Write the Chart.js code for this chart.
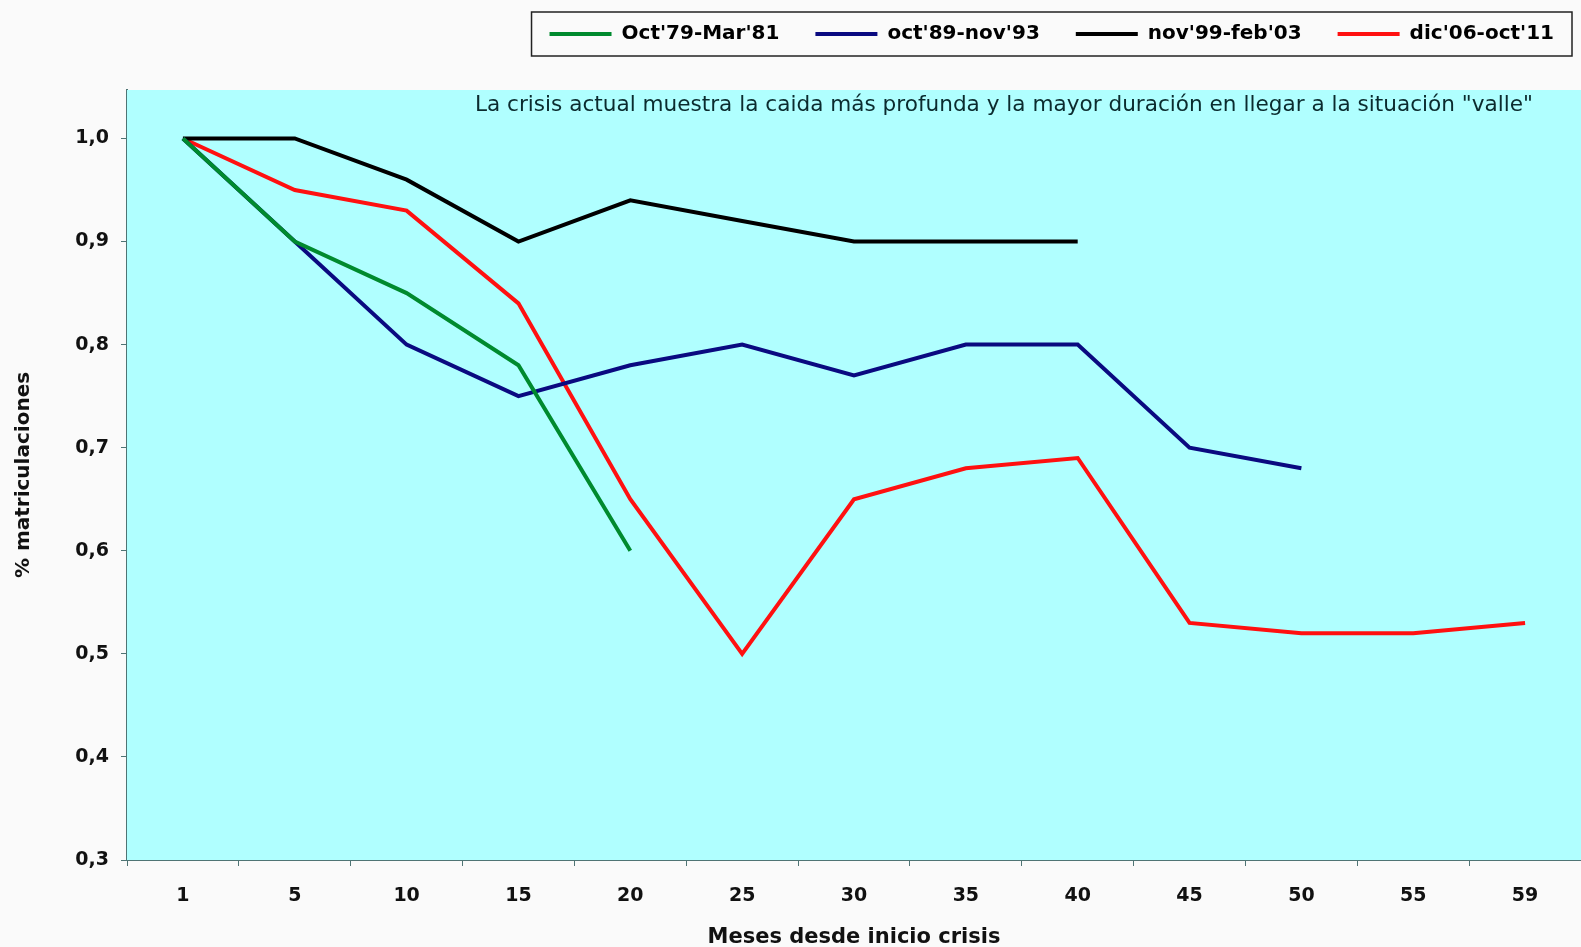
<!DOCTYPE html>
<html lang="es">
<head>
    <meta charset="UTF-8">
    <title>Matriculaciones en crisis</title>
    <style>
        body {
            margin: 0;
            padding: 0;
            background: #fafafa;
        }
        #chart {
            display: block;
        }
    </style>
    <script src="https://cdn.jsdelivr.net/npm/chart.js"></script>
</head>
<body>
    <canvas id="chart" width="1581" height="947"></canvas>

    <script>
        // meses desde inicio crisis
        const meses = ['1', '5', '10', '15', '20', '25', '30', '35', '40', '45', '50', '55', '59'];

        const crisis79 = [1.00, 0.90, 0.85, 0.78, 0.60, null, null, null, null, null, null, null, null];
        const crisis89 = [1.00, 0.90, 0.80, 0.75, 0.78, 0.80, 0.77, 0.80, 0.80, 0.70, 0.68, null, null];
        const crisis99 = [1.00, 1.00, 0.96, 0.90, 0.94, 0.92, 0.90, 0.90, 0.90, null, null, null, null];
        const crisis06 = [1.00, 0.95, 0.93, 0.84, 0.65, 0.50, 0.65, 0.68, 0.69, 0.53, 0.52, 0.52, 0.53];

        const nota = 'La crisis actual muestra la caida más profunda y la mayor duración en llegar a la situación "valle"';

        const axisColor = '#4f7474';
        const fontFamily = "'DejaVu Sans', Arial, sans-serif";
        const legendShift = 9;

        function serie(label, data, color) {
            return {
                label: label,
                data: data,
                borderColor: color,
                backgroundColor: color,
                borderWidth: 4,
                pointRadius: 0,
                pointHoverRadius: 0,
                tension: 0,
                fill: false
            };
        }

        // fondo cian del area de trazado + nota superior
        const plotBackground = {
            id: 'plotBackground',
            beforeDatasetsDraw(chart) {
                const {ctx, chartArea} = chart;
                ctx.save();
                ctx.fillStyle = '#b0ffff';
                ctx.fillRect(chartArea.left, chartArea.top, chartArea.right - chartArea.left, chartArea.bottom - chartArea.top);
                ctx.fillStyle = '#0b2b2e';
                ctx.font = "21.6px " + fontFamily;
                ctx.textAlign = 'right';
                ctx.textBaseline = 'middle';
                ctx.fillText(nota, chartArea.right - 48, chartArea.top + 15);
                ctx.restore();
            }
        };

        // marco alrededor de la leyenda y espacio debajo de ella
        const legendBox = {
            id: 'legendBox',
            beforeInit(chart) {
                const legend = chart.legend;
                const fit = legend.fit;
                legend.fit = function () {
                    fit.bind(legend)();
                    this.height += 36;
                };
                const draw = legend.draw;
                legend.draw = function () {
                    const ctx = chart.ctx;
                    ctx.save();
                    ctx.translate(legendShift, 0);
                    draw.bind(legend)();
                    ctx.restore();
                };
            },
            afterDraw(chart) {
                const boxes = chart.legend.legendHitBoxes;
                if (!boxes || !boxes.length) return;
                const left = Math.min(...boxes.map(b => b.left)) - 18 + legendShift;
                const right = Math.max(...boxes.map(b => b.left + b.width)) + 18 + legendShift;
                const top = Math.min(...boxes.map(b => b.top)) - 12;
                const bottom = Math.max(...boxes.map(b => b.top + b.height)) + 12;
                const ctx = chart.ctx;
                ctx.save();
                ctx.strokeStyle = '#222';
                ctx.lineWidth = 1.5;
                ctx.strokeRect(left, top, right - left, bottom - top);
                ctx.restore();
            }
        };

        new Chart(document.getElementById('chart'), {
            type: 'line',
            data: {
                labels: meses,
                datasets: [
                    serie("Oct'79-Mar'81", crisis79, '#008a2e'),
                    serie("oct'89-nov'93", crisis89, '#0a0a80'),
                    serie("nov'99-feb'03", crisis99, '#000000'),
                    serie("dic'06-oct'11", crisis06, '#ff1010')
                ]
            },
            options: {
                responsive: false,
                animation: false,
                layout: {
                    padding: {top: -12, right: 0, left: 0, bottom: 0}
                },
                plugins: {
                    tooltip: {enabled: false},
                    legend: {
                        position: 'top',
                        align: 'end',
                        labels: {
                            color: '#000',
                            boxWidth: 62,
                            boxHeight: 4,
                            padding: 36,
                            font: {family: fontFamily, size: 20, weight: 'bold'},
                            generateLabels(chart) {
                                return chart.data.datasets.map((ds, i) => ({
                                    text: ds.label,
                                    fillStyle: ds.borderColor,
                                    strokeStyle: ds.borderColor,
                                    lineWidth: 0,
                                    fontColor: '#000',
                                    datasetIndex: i,
                                    hidden: false
                                }));
                            }
                        }
                    }
                },
                scales: {
                    x: {
                        offset: true,
                        afterFit(scale) { scale.height = 87; },
                        border: {display: true, color: axisColor, width: 2},
                        grid: {
                            offset: true,
                            drawOnChartArea: false,
                            drawTicks: true,
                            tickLength: 6,
                            color: axisColor
                        },
                        ticks: {
                            color: '#111',
                            padding: 19,
                            maxRotation: 0,
                            autoSkip: false,
                            font: {family: fontFamily, size: 19, weight: 'bold'}
                        },
                        title: {
                            display: true,
                            text: 'Meses desde inicio crisis',
                            color: '#111',
                            padding: {top: 0, bottom: -3},
                            font: {family: fontFamily, size: 21, weight: 'bold'}
                        }
                    },
                    y: {
                        min: 0.3,
                        max: 1.047,
                        afterFit(scale) { scale.width = 127; },
                        afterBuildTicks(scale) {
                            scale.ticks = scale.ticks.filter(t => t.value <= 1.0001);
                        },
                        border: {display: true, color: axisColor, width: 2},
                        grid: {
                            drawOnChartArea: false,
                            drawTicks: true,
                            tickLength: 6,
                            color: axisColor
                        },
                        ticks: {
                            stepSize: 0.1,
                            color: '#111',
                            padding: 12,
                            font: {family: fontFamily, size: 19, weight: 'bold'},
                            callback: value => value.toFixed(1).replace('.', ',')
                        },
                        title: {
                            display: true,
                            text: '% matriculaciones',
                            color: '#111',
                            padding: {top: 12, bottom: 0},
                            font: {family: fontFamily, size: 20, weight: 'bold'}
                        }
                    }
                }
            },
            plugins: [plotBackground, legendBox]
        });
    </script>
</body>
</html>
